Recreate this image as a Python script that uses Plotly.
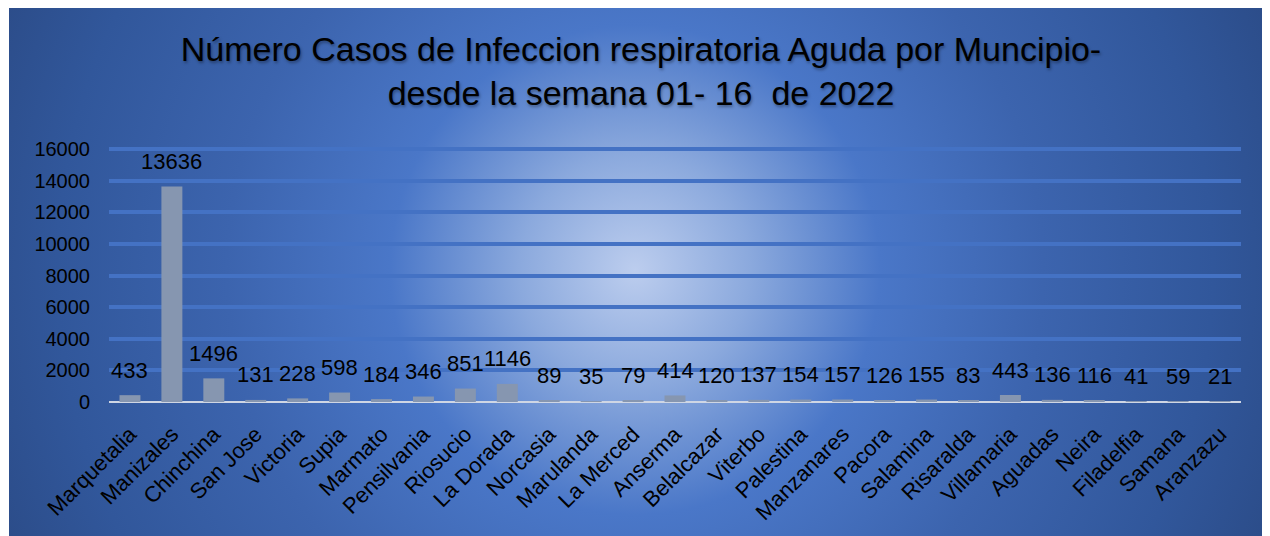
import base64
import plotly.graph_objects as go

municipios = ["Marquetalia", "Manizales", "Chinchina", "San Jose", "Victoria", "Supia",
              "Marmato", "Pensilvania", "Riosucio", "La Dorada", "Norcasia", "Marulanda",
              "La Merced", "Anserma", "Belalcazar", "Viterbo", "Palestina", "Manzanares",
              "Pacora", "Salamina", "Risaralda", "Villamaria", "Aguadas", "Neira",
              "Filadelfia", "Samana", "Aranzazu"]
casos = [433, 13636, 1496, 131, 228, 598, 184, 346, 851, 1146, 89, 35, 79, 414, 120,
         137, 154, 157, 126, 155, 83, 443, 136, 116, 41, 59, 21]
y_ticks = [0, 2000, 4000, 6000, 8000, 10000, 12000, 14000, 16000]
y_tick_labels = ["0", "2000", "4000", "6000", "8000", "10000", "12000", "14000", "16000"]

title_text = ("Número Casos de Infeccion respiratoria Aguda por Muncipio-<br>"
              "desde la semana 01- 16  de 2022")

# page has an 8px body margin; figure coordinates = page coordinates - 8
OFF = 8
W, H = 1270 - OFF, 536 - OFF
ML, MT = 109 - OFF, 148 - OFF
MB = H - (402 - OFF)
MR = W - (1241 - OFF)
PW, PH = W - ML - MR, H - MT - MB

# radial gradient background (chart area fill)
bx0, by0, bx1, by1 = 1, 0, W, H
bw, bh = bx1 - bx0, by1 - by0
cx, cy = 635 - OFF - bx0, 270 - OFF - by0
svg = (
    f'<svg xmlns="http://www.w3.org/2000/svg" width="{bw}" height="{bh}" viewBox="0 0 {bw} {bh}">'
    f'<defs><radialGradient id="g" gradientUnits="userSpaceOnUse" cx="{cx}" cy="{cy}" r="680">'
    '<stop offset="0" stop-color="#bccdee"/>'
    '<stop offset="0.17" stop-color="#8ba9dd"/>'
    '<stop offset="0.36" stop-color="#4a77c8"/>'
    '<stop offset="0.6" stop-color="#3c64ae"/>'
    '<stop offset="0.85" stop-color="#31579b"/>'
    '<stop offset="1" stop-color="#2c4d8a"/>'
    '</radialGradient></defs>'
    f'<rect x="0" y="0" width="{bw}" height="{bh}" fill="url(#g)"/></svg>'
)
src = "data:image/svg+xml;base64," + base64.b64encode(svg.encode()).decode()

fig = go.Figure()
fig.add_trace(go.Bar(
    x=municipios, y=casos,
    marker=dict(color="#8696b0", line=dict(width=0)),
    width=0.5,
    hoverinfo="x+y",
))

for m, v in zip(municipios, casos):
    fig.add_annotation(
        x=m, y=v, text=str(v), showarrow=False, yanchor="middle", yshift=25,
        font=dict(family="Liberation Sans", size=22, color="#000000"),
    )

fig.add_layout_image(
    source=src, xref="paper", yref="paper",
    x=(bx0 - ML) / PW, y=(H - MB - by0) / PH,
    sizex=bw / PW, sizey=bh / PH,
    xanchor="left", yanchor="top", sizing="stretch", layer="below",
)

fig.update_layout(
    width=W, height=H,
    margin=dict(l=ML, r=MR, t=MT, b=MB, pad=0),
    paper_bgcolor="#ffffff",
    plot_bgcolor="rgba(0,0,0,0)",
    showlegend=False,
    bargap=0.5,
    title=dict(
        text=title_text, x=(641 - OFF) / W, xanchor="center", y=1 - (61 - OFF) / H,
        yanchor="middle", yref="container",
        font=dict(family="Liberation Sans", size=34, color="#000000",
                  shadow="1px 2px 3px rgba(0,0,0,0.35)"),
    ),
    xaxis=dict(
        tickangle=-45,
        tickfont=dict(family="Liberation Sans", size=22, color="#000000"),
        showgrid=False, showline=False, ticks="", ticklabelstandoff=14,
    ),
    yaxis=dict(
        range=[0, 16080], tickvals=y_ticks, ticktext=y_tick_labels,
        tickfont=dict(family="Liberation Sans", size=20, color="#000000"),
        showgrid=True, gridcolor="#4472c4", gridwidth=4,
        zeroline=True, zerolinecolor="#cfd6e4", zerolinewidth=2,
        showline=False, ticks="", ticklabelstandoff=18,
    ),
)

fig.write_html("out.html")
